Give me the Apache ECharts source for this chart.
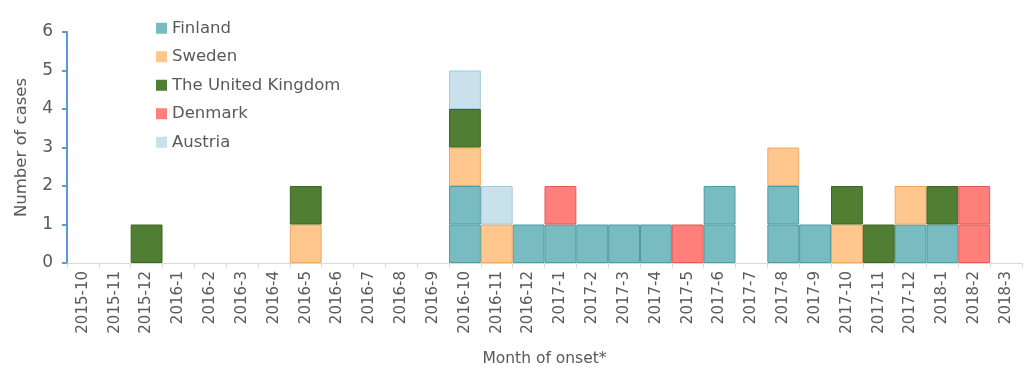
<!DOCTYPE html>
<html>
<head>
<meta charset="utf-8">
<script src="https://cdn.jsdelivr.net/npm/echarts@6/dist/echarts.min.js"></script>
<style>
  html, body { margin: 0; padding: 0; background: #fff; }
  #chart { width: 1035px; height: 372px; }
</style>
</head>
<body>
<div id="chart"></div>
<script>
const months = ['2015-10', '2015-11', '2015-12', '2016-1', '2016-2', '2016-3', '2016-4', '2016-5', '2016-6', '2016-7',
  '2016-8', '2016-9', '2016-10', '2016-11', '2016-12', '2017-1', '2017-2', '2017-3', '2017-4', '2017-5',
  '2017-6', '2017-7', '2017-8', '2017-9', '2017-10', '2017-11', '2017-12', '2018-1', '2018-2', '2018-3']

// cases per month, one array per country (stack order bottom to top)
const finland = [0, 0, 0, 0, 0, 0, 0, 0, 0, 0, 0, 0, 2, 0, 1, 1, 1, 1, 1, 0, 2, 0, 2, 1, 0, 0, 1, 1, 0, 0]
const sweden  = [0, 0, 0, 0, 0, 0, 0, 1, 0, 0, 0, 0, 1, 1, 0, 0, 0, 0, 0, 0, 0, 0, 1, 0, 1, 0, 1, 0, 0, 0]
const uk      = [0, 0, 1, 0, 0, 0, 0, 1, 0, 0, 0, 0, 1, 0, 0, 0, 0, 0, 0, 0, 0, 0, 0, 0, 1, 1, 0, 1, 0, 0]
const denmark = [0, 0, 0, 0, 0, 0, 0, 0, 0, 0, 0, 0, 0, 0, 0, 1, 0, 0, 0, 1, 0, 0, 0, 0, 0, 0, 0, 0, 2, 0]
const austria = [0, 0, 0, 0, 0, 0, 0, 0, 0, 0, 0, 0, 1, 1, 0, 0, 0, 0, 0, 0, 0, 0, 0, 0, 0, 0, 0, 0, 0, 0]

const yTicks = [0, 1, 2, 3, 4, 5, 6]

const countries = [
  { name: 'Finland', data: finland, color: '#78BCC1', border: '#4E9CA2' },
  { name: 'Sweden', data: sweden, color: '#FFC78E', border: '#F0A860' },
  { name: 'The United Kingdom', data: uk, color: '#507E32', border: '#3E6626' },
  { name: 'Denmark', data: denmark, color: '#FF7F7B', border: '#E25B57' },
  { name: 'Austria', data: austria, color: '#C9E1EA', border: '#A5CAD8' }
]

// each case is its own box, so split every country into unit layers
const series = []
countries.forEach(c => {
  const layers = Math.max(...c.data)
  for (let k = 1; k <= layers; k++) {
    series.push({
      name: c.name,
      type: 'bar',
      stack: 'cases',
      barCategoryGap: '0%',
      data: c.data.map(v => (v >= k ? 1 : null)),
      itemStyle: { color: c.color, borderColor: c.border, borderWidth: 1, borderRadius: 0 },
      emphasis: { disabled: true }
    })
  }
})

const chart = echarts.init(document.getElementById('chart'))
chart.setOption({
  animation: false,
  backgroundColor: '#fff',
  color: countries.map(c => c.color),
  grid: { left: 67, right: 13, top: 32, bottom: 109, outerBoundsMode: 'none', containLabel: false },
  legend: {
    orient: 'vertical',
    left: 151,
    top: 14,
    data: countries.map(c => c.name),
    icon: 'rect',
    itemWidth: 11,
    itemHeight: 11,
    itemGap: 10,
    itemStyle: { borderWidth: 0 },
    textStyle: { fontFamily: 'DejaVu Sans', fontSize: 16.5, color: '#595959', lineHeight: 18.5 }
  },
  xAxis: {
    type: 'category',
    data: months,
    name: 'Month of onset*',
    nameLocation: 'middle',
    nameGap: 88,
    nameTextStyle: { fontFamily: 'DejaVu Sans', fontSize: 15.5, color: '#595959' },
    axisLine: { lineStyle: { color: '#D9D9D9', width: 1 } },
    axisTick: { show: true, length: 5, lineStyle: { color: '#D9D9D9' } },
    axisLabel: { rotate: 90, interval: 0, fontFamily: 'DejaVu Sans', fontSize: 15, color: '#595959', margin: 8 }
  },
  yAxis: {
    type: 'value',
    min: yTicks[0],
    max: yTicks[yTicks.length - 1],
    interval: 1,
    name: 'Number of cases',
    nameLocation: 'middle',
    nameGap: 37,
    nameTextStyle: { fontFamily: 'DejaVu Sans', fontSize: 16.5, color: '#595959' },
    axisLine: { show: true, lineStyle: { color: '#5B9BD5', width: 2 } },
    axisTick: { show: true, length: 5, lineStyle: { color: '#5B9BD5', width: 2 } },
    axisLabel: { fontFamily: 'DejaVu Sans', fontSize: 17, color: '#595959', margin: 14 },
    splitLine: { show: false }
  },
  series: series
})
</script>
</body>
</html>
